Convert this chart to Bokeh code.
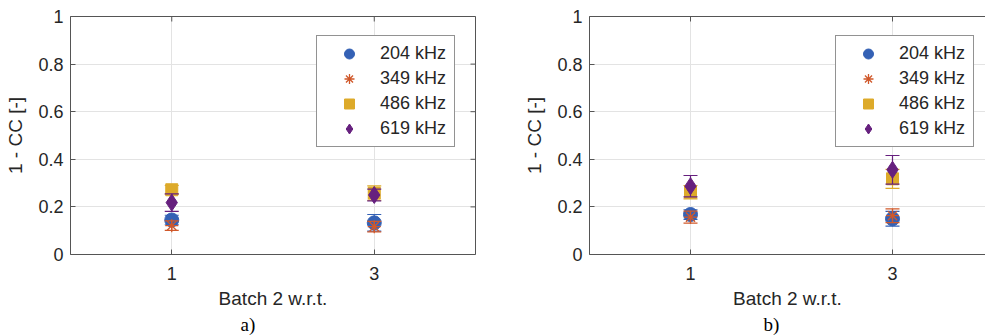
import numpy as np
from bokeh.plotting import figure
from bokeh.models import (ColumnDataSource, LinearAxis, FixedTicker, CustomJSTickFormatter,
                          Legend, LegendItem, Title, Range1d)
from bokeh.layouts import row
from bokeh.embed import file_html
from bokeh.resources import INLINE

# ---------------- data ----------------
batches = [1, 3]
freq_labels = ["204 kHz", "349 kHz", "486 kHz", "619 kHz"]
y_ticks = [0, 0.2, 0.4, 0.6, 0.8, 1]

# panel a)
a_204 = [0.145, 0.133]
a_204_err = [0.020, 0.035]
a_349 = [0.121, 0.117]
a_349_err = [0.020, 0.022]
a_486 = [0.272, 0.258]
a_486_err = [0.018, 0.030]
a_619 = [0.218, 0.250]
a_619_err = [0.037, 0.025]

# panel b)
b_204 = [0.168, 0.150]
b_204_err = [0.020, 0.031]
b_349 = [0.157, 0.163]
b_349_err = [0.025, 0.029]
b_486 = [0.262, 0.318]
b_486_err = [0.028, 0.040]
b_619 = [0.287, 0.356]
b_619_err = [0.045, 0.060]

colors = ["#3461B5", "#D0582A", "#DDAA2A", "#66207E"]
markers = ["circle", "asterisk", "square", "diamond"]
msizes = [14, 13, 12, 17]

AX_COL = "#555555"
TXT_COL = "#262626"
FONT = "Liberation Sans"


def style_axis(ax):
    ax.major_tick_in = 5
    ax.major_tick_out = 0
    ax.minor_tick_in = 0
    ax.minor_tick_out = 0
    ax.axis_line_color = AX_COL
    ax.axis_line_width = 1
    ax.major_tick_line_color = AX_COL
    ax.major_label_text_font = FONT
    ax.major_label_text_color = TXT_COL
    ax.major_label_text_font_size = "18px"


def make_panel(series, errs, width, x_end, border_left, border_right, right_side, tag, tag_offset):
    p = figure(width=width, height=336, x_range=Range1d(0, x_end), y_range=Range1d(0, 1),
               output_backend="svg", toolbar_location=None,
               min_border_left=border_left, min_border_right=border_right,
               min_border_top=16, min_border_bottom=82)
    p.outline_line_color = None
    p.background_fill_color = "white"
    p.border_fill_color = "white"

    xt = FixedTicker(ticks=batches)
    yt = FixedTicker(ticks=y_ticks)
    fmt = CustomJSTickFormatter(code="return String(Number(tick.toFixed(2)));")

    p.xaxis.ticker = xt
    p.yaxis.ticker = yt
    p.yaxis.formatter = fmt
    p.xgrid.ticker = xt
    p.ygrid.ticker = yt
    for g in (p.xgrid, p.ygrid):
        g.grid_line_color = "#E3E3E3"
        g.grid_line_width = 1

    style_axis(p.xaxis[0])
    style_axis(p.yaxis[0])
    p.xaxis.major_label_standoff = 12
    p.yaxis.major_label_standoff = 7

    p.xaxis.axis_label = "Batch 2 w.r.t."
    p.yaxis.axis_label = "1 - CC [-]"
    for ax in (p.xaxis[0], p.yaxis[0]):
        ax.axis_label_text_font = FONT
        ax.axis_label_text_font_size = "19px"
        ax.axis_label_text_font_style = "normal"
        ax.axis_label_text_color = TXT_COL
    p.xaxis.axis_label_standoff = 5
    p.yaxis.axis_label_standoff = 9

    # box lines (no labels, no ticks)
    top = LinearAxis(ticker=FixedTicker(ticks=[]), axis_line_color=AX_COL,
                     major_tick_in=0, major_tick_out=0, minor_tick_in=0, minor_tick_out=0)
    p.add_layout(top, "above")
    # inward ticks on the top edge
    ttop = ColumnDataSource(dict(x=batches, y=[p.y_range.end] * len(batches)))
    p.scatter(x="x", y="y", source=ttop, marker="dash", angle=np.pi / 2, size=10,
              line_color=AX_COL, line_width=1)
    if right_side:
        rax = LinearAxis(ticker=FixedTicker(ticks=[]), axis_line_color=AX_COL,
                         major_tick_in=0, major_tick_out=0, minor_tick_in=0, minor_tick_out=0)
        p.add_layout(rax, "right")
        tright = ColumnDataSource(dict(x=[x_end] * len(y_ticks), y=y_ticks))
        p.scatter(x="x", y="y", source=tright, marker="dash", size=10,
                  line_color=AX_COL, line_width=1)

    items = []
    for vals, err, lbl, c, m, s in zip(series, errs, freq_labels, colors, markers, msizes):
        v = np.array(vals)
        e = np.array(err)
        src = ColumnDataSource(dict(x=batches, y=v, lo=v - e, hi=v + e))
        p.segment(x0="x", y0="lo", x1="x", y1="hi", source=src, line_color=c, line_width=1.2)
        p.scatter(x="x", y="lo", source=src, marker="dash", size=14, line_color=c, line_width=1.2)
        p.scatter(x="x", y="hi", source=src, marker="dash", size=14, line_color=c, line_width=1.2)
        if m == "asterisk":
            r = p.scatter(x="x", y="y", source=src, marker=m, size=s, line_color=c, line_width=1.3)
        else:
            r = p.scatter(x="x", y="y", source=src, marker=m, size=s, fill_color=c, line_color=c)
        items.append(LegendItem(label=lbl, renderers=[r]))

    legend = Legend(items=items, location=(246, 107), orientation="vertical",
                    border_line_color="#262626", border_line_width=1,
                    background_fill_color="white", background_fill_alpha=1.0,
                    label_text_font=FONT, label_text_font_size="18px", label_text_color=TXT_COL,
                    glyph_height=25, glyph_width=54, spacing=0, padding=5,
                    label_standoff=4, label_width=69, label_height=25, margin=0)
    p.add_layout(legend)

    t = Title(text=tag, align="left", offset=tag_offset, text_font="Liberation Serif",
              text_font_size="19px", text_font_style="normal", text_color="black",
              standoff=0)
    p.add_layout(t, "below")
    return p


pa = make_panel([a_204, a_349, a_486, a_619], [a_204_err, a_349_err, a_486_err, a_619_err],
                480, 4.0, 70, 5, True, "a)", 170)
pb = make_panel([b_204, b_349, b_486, b_619], [b_204_err, b_349_err, b_486_err, b_619_err],
                505, 396 / 101.0, 109, 0, False, "b)", 174)

layout = row(pa, pb)
open("out.html", "w").write(file_html(layout, INLINE))
